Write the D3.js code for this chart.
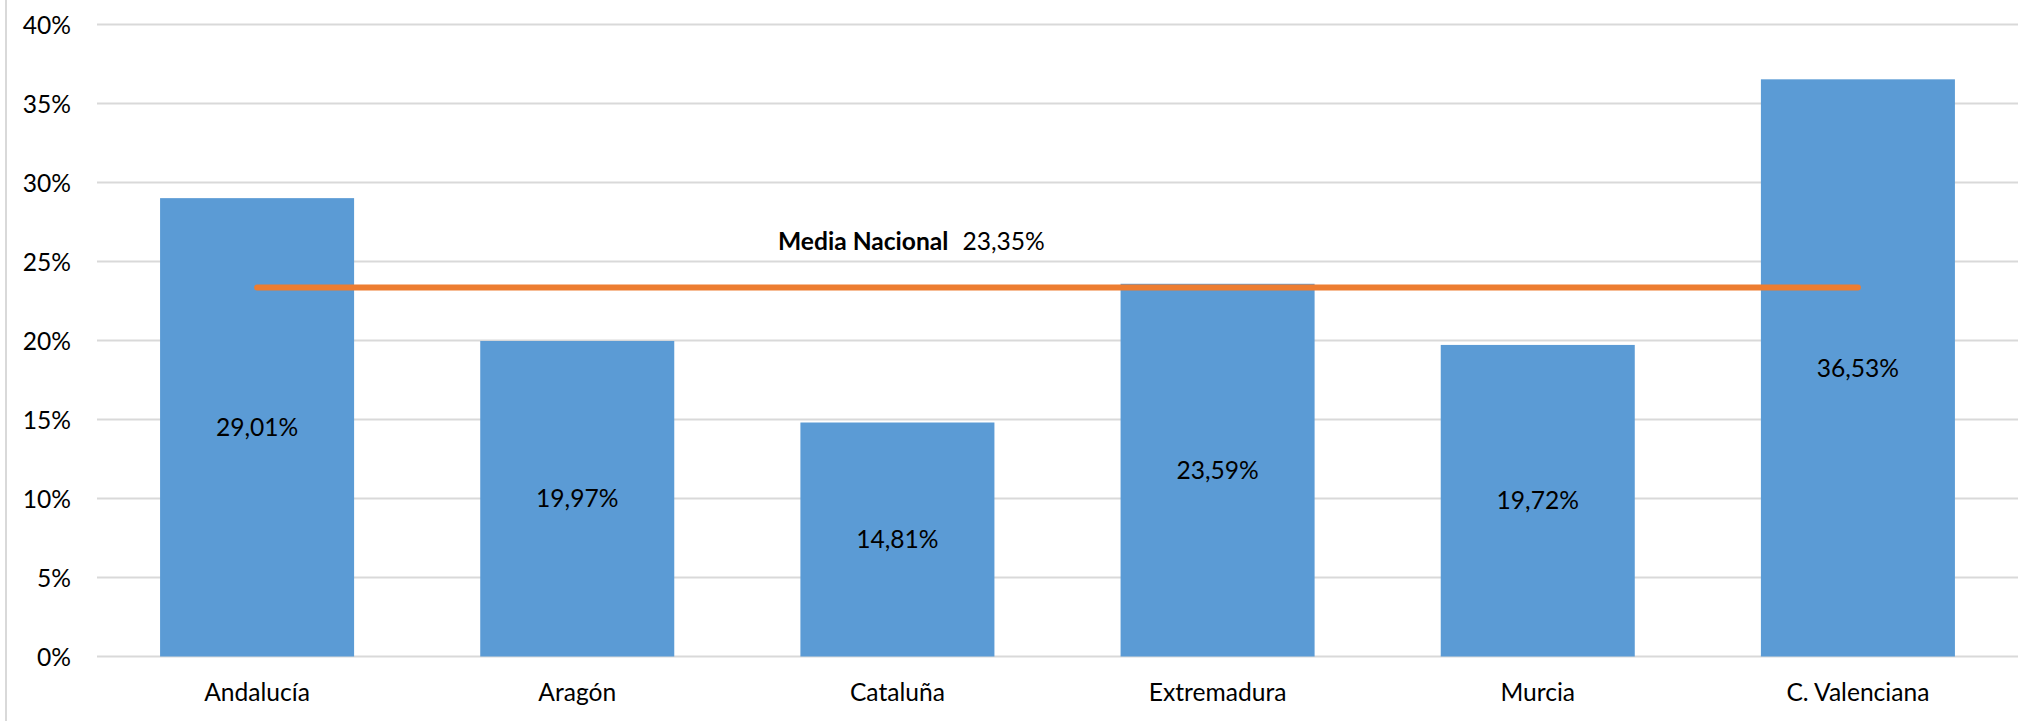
<!DOCTYPE html>
<html><head><meta charset="utf-8">
<script src="https://cdn.jsdelivr.net/npm/d3@7"></script>
<style>
html,body{margin:0;padding:0;background:#fff;}
svg text{font-family:Lato,"Open Sans",sans-serif;fill:#000;}
</style></head>
<body>
<svg id="chart" width="2027" height="721"></svg>
<script>
const categories = ["Andalucía","Aragón","Cataluña","Extremadura","Murcia","C. Valenciana"];
const values = [29.01,19.97,14.81,23.59,19.72,36.53];
const valueLabels = ["29,01%","19,97%","14,81%","23,59%","19,72%","36,53%"];
const mediaNacional = 23.35;
const mediaLabel = "23,35%";
const mediaTitle = "Media Nacional";
const yTicks = [0,5,10,15,20,25,30,35,40];

const FS = "24.6px";
const svg = d3.select("#chart");
const pLeft = 97, pRight = 2018, pTop = 24.5, pBottom = 656.5;

const x = d3.scaleBand().domain(categories).range([pLeft,pRight]).paddingInner(0.394).paddingOuter(0.197);
const y = d3.scaleLinear().domain([0,40]).range([pBottom,pTop]);

// left border
svg.append("line").attr("x1",6).attr("x2",6).attr("y1",0).attr("y2",721)
  .attr("stroke","#d9d9d9").attr("stroke-width",2);

// gridlines
svg.append("g").selectAll("line").data(yTicks).join("line")
  .attr("x1",pLeft).attr("x2",pRight)
  .attr("y1",d=>y(d)).attr("y2",d=>y(d))
  .attr("stroke","#d9d9d9").attr("stroke-width",2);

// y axis labels
const yAxis = d3.axisLeft(y).tickValues(yTicks).tickFormat(d=>d+"%").tickSize(0).tickPadding(0);
const ya = svg.append("g").attr("transform",`translate(71,0)`).call(yAxis);
ya.select(".domain").remove();
ya.selectAll("text").style("font-size",FS).attr("dy","0.35em").style("font-family","Lato,'Open Sans',sans-serif").attr("fill","#000");

// bars
svg.append("g").selectAll("rect").data(values).join("rect")
  .attr("x",(d,i)=>x(categories[i]))
  .attr("width",x.bandwidth())
  .attr("y",d=>y(d))
  .attr("height",d=>y(0)-y(d))
  .attr("fill","#5b9bd5");

// x axis labels
const xAxis = d3.axisBottom(x).tickSize(0).tickPadding(0);
const xa = svg.append("g").attr("transform",`translate(0,${pBottom})`).call(xAxis);
xa.select(".domain").remove();
xa.selectAll("text").style("font-size",FS).attr("dy","0").attr("y",44).style("font-family","Lato,'Open Sans',sans-serif").attr("fill","#000");

// media line
const c0 = x(categories[0])+x.bandwidth()/2;
const c1 = x(categories[categories.length-1])+x.bandwidth()/2;
svg.append("line").attr("x1",c0).attr("x2",c1)
  .attr("y1",y(mediaNacional)).attr("y2",y(mediaNacional))
  .attr("stroke","#ed7d31").attr("stroke-width",6).attr("stroke-linecap","round");

// value labels
svg.append("g").selectAll("text").data(values).join("text")
  .attr("x",(d,i)=>x(categories[i])+x.bandwidth()/2)
  .attr("y",d=>(y(d)+y(0))/2)
  .attr("dy","0.35em")
  .attr("text-anchor","middle")
  .style("font-size",FS)
  .text((d,i)=>valueLabels[i]);

// media label
const ml = svg.append("text").attr("x",778).attr("y",250).style("font-size",FS);
ml.append("tspan").style("font-weight","bold").text(mediaTitle);
ml.append("tspan").attr("dx",14).text(mediaLabel);
</script>
</body></html>
